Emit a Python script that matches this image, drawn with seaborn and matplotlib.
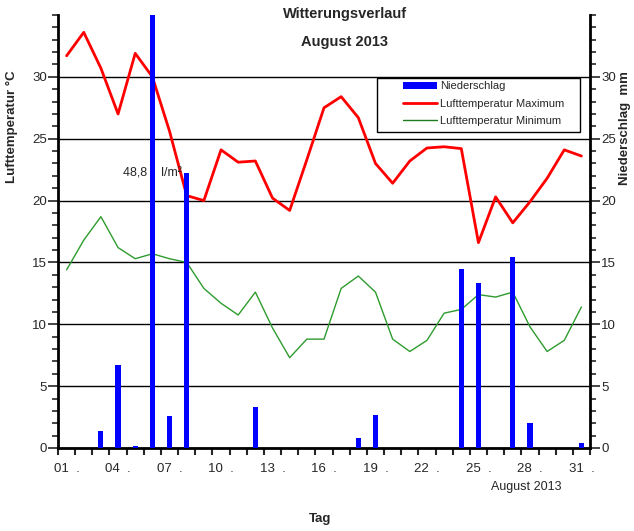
import numpy as np
import pandas as pd
import matplotlib
matplotlib.use("Agg")
import matplotlib.pyplot as plt
from matplotlib.lines import Line2D
from matplotlib.patches import Patch, Rectangle
import seaborn as sns

# data (August 2013)
days = list(range(1, 32))
temp_max = [31.7, 33.6, 30.7, 27.0, 31.9, 30.0, 25.6, 20.4, 20.0, 24.1,
            23.1, 23.2, 20.2, 19.2, 23.3, 27.5, 28.4, 26.7, 23.0, 21.4,
            23.2, 24.25, 24.35, 24.2, 16.6, 20.3, 18.2, 19.9, 21.8, 24.1, 23.6]
temp_min = [14.4, 16.8, 18.7, 16.2, 15.3, 15.7, 15.3, 15.0, 12.9, 11.7,
            10.75, 12.6, 9.7, 7.3, 8.8, 8.8, 12.9, 13.9, 12.6, 8.8,
            7.8, 8.7, 10.9, 11.2, 12.4, 12.2, 12.6, 9.8, 7.8, 8.7, 11.4]
precip = [0, 0, 1.4, 6.7, 0.15, 48.8, 2.6, 22.2, 0, 0,
          0, 3.3, 0, 0, 0, 0, 0, 0.8, 2.7, 0,
          0, 0, 0, 14.5, 13.3, 0, 15.4, 2.0, 0, 0, 0.4]
day_labels = ["01", "04", "07", "10", "13", "16", "19", "22", "25", "28", "31"]

df = pd.DataFrame({"Tag": days, "tmax": temp_max, "tmin": temp_min, "rr": precip})

sns.set_style("white")
plt.rcParams["font.family"] = ["Liberation Sans", "DejaVu Sans"]

fig = plt.figure(figsize=(6.34, 5.31), dpi=100)
ax = fig.add_axes([58 / 634, 83 / 531, 532 / 634, 433 / 531])

sns.lineplot(data=df, x="Tag", y="tmax", color="#FF0000", lw=2, ax=ax, zorder=2)
sns.lineplot(data=df, x="Tag", y="tmin", color="#2E9B2E", lw=1, ax=ax, zorder=2)
sns.barplot(data=df, x="Tag", y="rr", native_scale=True, width=0.3,
            color="#0000FF", saturation=1, linewidth=0, ax=ax, zorder=3)

ax.set_xlim(0.5, 31.5)
ax.set_ylim(0, 35)
ax.set_xlabel("")
ax.set_ylabel("")

# y axis: labels both sides, minor ticks every unit
ax.set_yticks(range(0, 31, 5))
ax.set_yticks(range(0, 36), minor=True)
ax.yaxis.grid(True, which="major", color="black", lw=1)
ax.set_axisbelow(True)
ax.tick_params(axis="y", which="both", left=True, right=True, labelleft=True,
               labelright=True, direction="out", labelsize=9.5, pad=1)
ax.tick_params(axis="y", which="major", length=7, width=1.2)
ax.tick_params(axis="y", which="minor", length=4, width=1.2)

# x axis: tick marks between days, labels every third day
ax.set_xticks(np.arange(0.5, 32, 1))
ax.set_xticklabels([])
ax.set_xticks([int(d) for d in day_labels], minor=True)
ax.set_xticklabels([d + "  ." for d in day_labels], minor=True)
ax.tick_params(axis="x", which="major", bottom=True, direction="out", length=5, width=1.5)
ax.tick_params(axis="x", which="minor", bottom=True, length=0, labelsize=9.5, pad=11)

for side in ["left", "right", "bottom"]:
    ax.spines[side].set_visible(True)
    ax.spines[side].set_color("black")
    ax.spines[side].set_linewidth(2)
ax.spines["top"].set_visible(False)

# clipped bar value
ax.text(6, 22.2, "48,8    l/m²", ha="center", va="center", fontsize=9, zorder=4)

# legend: box drawn separately so the entries sit indented like the reference
ax.add_patch(Rectangle((0.600, 0.730), 0.382, 0.124, transform=ax.transAxes,
                       facecolor="white", edgecolor="black", lw=1, zorder=5))
handles = [Patch(facecolor="#0000FF", edgecolor="none"),
           Line2D([], [], color="#FF0000", lw=2),
           Line2D([], [], color="#1E7A1E", lw=1)]
leg = ax.legend(handles, ["Niederschlag", "Lufttemperatur Maximum", "Lufttemperatur Minimum"],
                loc="upper left", bbox_to_anchor=(0.644, 0.852), borderaxespad=0,
                fontsize=8, frameon=False, handlelength=3.1, handleheight=0.6,
                borderpad=0.2, labelspacing=0.65, handletextpad=0.25)
leg.set_zorder(6)

fig.text(345 / 634, 1 - 14 / 531, "Witterungsverlauf", ha="center", va="center",
         fontsize=10.5, fontweight="bold")
fig.text(345 / 634, 1 - 42 / 531, "August 2013", ha="center", va="center",
         fontsize=10.5, fontweight="bold")
fig.text(12 / 634, 1 - 127 / 531, "Lufttemperatur °C", rotation=90, ha="center",
         va="center", fontsize=9.5, fontweight="bold")
fig.text(625 / 634, 1 - 128 / 531, "Niederschlag  mm", rotation=90, ha="center",
         va="center", fontsize=9.5, fontweight="bold")
fig.text(320 / 634, 1 - 519 / 531, "Tag", ha="center", va="center",
         fontsize=9.5, fontweight="bold")
fig.text(526 / 634, 1 - 487 / 531, "August 2013", ha="center", va="center", fontsize=9)

fig.savefig("out.png", dpi=100)
